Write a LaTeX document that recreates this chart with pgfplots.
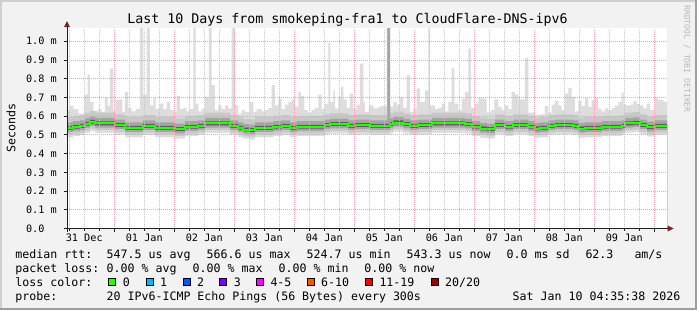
\documentclass[border=0pt]{standalone}
\usepackage{fontspec}
\setmainfont{DejaVu Sans Mono}
\setmonofont{DejaVu Sans Mono}
\usepackage{pgfplots}
\usepackage{pgfplotstable}
\pgfplotsset{compat=1.18}
\definecolor{backc}{HTML}{F2F2F2}
\definecolor{shadea}{HTML}{CFCFCF}
\definecolor{shadeb}{HTML}{9E9E9E}
\definecolor{mgrid}{HTML}{EFA0A0}
\definecolor{mingrid}{HTML}{C4C4C4}
\definecolor{arrowc}{HTML}{801F1F}
\definecolor{axisc}{HTML}{1F1F1F}
\definecolor{smokeA}{HTML}{DDDDDD}
\definecolor{smokeB}{HTML}{C8C8C8}
\definecolor{smokeC}{HTML}{A4A4A4}
\definecolor{smokeD}{HTML}{5E5E5E}
\definecolor{wmark}{HTML}{B8B8B8}
\definecolor{lc0}{HTML}{26FF00}
\definecolor{lc1}{HTML}{00B8FF}
\definecolor{lc2}{HTML}{0059FF}
\definecolor{lc3}{HTML}{7E00FF}
\definecolor{lc4}{HTML}{FF00FF}
\definecolor{lc6}{HTML}{FF5500}
\definecolor{lc11}{HTML}{FF0000}
\definecolor{lc20}{HTML}{A10000}

% maximum ping per time bin (hours since 31 Dec 00:00), ms
\pgfplotstableread{
h hi
5.1 0.632
6.28 0.655
7.61 0.637
9.61 0.614
12.01 0.715
13.35 0.822
14.28 0.676
15.61 0.630
17.61 0.637
18.95 0.623
20.28 0.703
21.35 0.655
22.28 0.854
23.61 0.632
24.55 0.685
25.61 0.690
27.21 0.623
28.28 0.729
29.61 0.644
30.95 0.626
32.55 0.637
34.28 1.07
35.61 0.715
36.95 1.07
38.28 0.658
39.61 0.697
40.55 0.637
42.28 0.667
43.61 0.637
44.95 0.676
46.28 0.632
47.61 0.626
48.95 0.708
50.28 0.637
51.61 0.644
52.95 0.626
54.28 0.637
55.61 1.07
56.55 0.667
57.61 0.626
58.95 0.637
60.28 0.703
61.88 1.07
62.95 0.765
64.28 0.632
65.61 0.658
66.95 0.637
68.28 0.658
69.61 0.641
70.95 1.07
72.28 0.658
73.61 0.614
74.95 0.632
76.28 0.623
78.28 0.676
79.61 0.623
80.95 0.637
82.95 0.626
84.28 0.632
85.61 0.644
86.95 0.765
88.28 0.658
89.61 0.694
90.95 0.637
92.28 0.662
93.61 0.676
94.95 0.690
96.28 0.649
97.61 0.729
98.68 0.708
100.01 0.632
101.35 0.619
102.95 0.632
104.28 0.644
105.61 0.715
106.95 0.637
108.28 0.667
109.61 0.993
110.41 0.676
111.61 0.738
112.28 0.641
113.61 0.703
114.68 0.756
115.61 0.690
116.95 0.644
118.28 0.720
119.61 0.637
120.95 0.662
122.28 0.881
123.61 0.676
124.28 0.623
125.88 0.658
127.61 0.641
129.61 0.649
130.95 0.655
132.95 1.07
134.28 0.649
135.61 0.676
136.95 0.662
138.28 0.703
139.61 0.644
140.95 0.818
142.28 0.623
143.61 0.637
144.95 0.747
146.28 0.676
148.28 0.738
149.61 1.07
150.28 0.658
152.28 0.637
153.61 0.644
154.95 0.667
156.28 0.626
157.61 0.676
158.95 0.858
160.01 0.667
161.61 0.632
162.95 0.694
164.28 0.729
165.61 0.960
166.68 0.644
168.28 0.667
169.61 0.697
171.21 0.694
172.95 0.619
174.68 0.632
176.01 0.690
177.61 0.649
178.95 0.632
180.28 0.658
181.61 0.637
182.95 0.729
184.28 0.715
185.61 0.690
188.28 0.911
189.61 0.619
190.95 0.619
192.28 0.605
193.88 0.609
196.28 0.655
197.61 0.619
198.95 0.662
200.28 0.681
201.61 0.658
202.95 0.632
204.28 0.720
205.61 0.751
206.95 0.703
208.28 0.626
209.61 0.680
210.95 0.655
212.28 0.697
213.61 0.649
214.95 0.685
216.28 0.697
217.61 0.637
218.95 0.626
220.28 0.641
221.61 0.632
222.95 0.641
224.28 0.658
225.61 0.676
226.95 0.726
227.75 0.662
228.95 0.658
230.28 0.662
231.61 0.680
232.95 0.667
234.28 0.658
235.61 0.641
236.95 0.667
238.28 0.632
240.28 0.697
241.61 0.685
243.61 0.676
245.1 0.676
}\spikes

% smoke bands and median (ms)
\pgfplotstableread{
h lo blo clo dlo med dhi chi bhi
5.1 .487 .501 .515 .527 .537 .548 .567 .595
7.5 .493 .507 .521 .533 .543 .554 .573 .601
10.3 .498 .512 .526 .538 .548 .559 .578 .606
12.3 .509 .523 .537 .549 .559 .570 .589 .617
14.3 .519 .533 .547 .559 .569 .580 .599 .627
16.3 .511 .525 .539 .551 .561 .572 .591 .619
24.3 .502 .516 .530 .542 .552 .563 .582 .610
28.3 .487 .501 .515 .527 .537 .548 .567 .595
35.5 .498 .512 .526 .538 .548 .559 .578 .606
40.3 .487 .501 .515 .527 .537 .548 .567 .595
48.3 .480 .494 .508 .520 .530 .541 .560 .588
52.3 .493 .507 .521 .533 .543 .554 .573 .601
57.5 .498 .512 .526 .538 .548 .559 .578 .606
60.3 .511 .525 .539 .551 .561 .572 .591 .619
70.3 .498 .512 .526 .538 .548 .559 .578 .606
73.6 .487 .501 .515 .527 .537 .548 .567 .595
75.6 .478 .492 .506 .518 .528 .539 .558 .586
78.3 .475 .489 .503 .515 .525 .536 .555 .583
80.3 .487 .501 .515 .527 .537 .548 .567 .595
87.6 .493 .507 .521 .533 .543 .554 .573 .601
91.0 .498 .512 .526 .538 .548 .559 .578 .606
94.3 .487 .501 .515 .527 .537 .548 .567 .595
97.0 .493 .507 .521 .533 .543 .554 .573 .601
108.3 .502 .516 .530 .542 .552 .563 .582 .610
110.3 .507 .521 .535 .547 .557 .568 .587 .615
117.6 .498 .512 .526 .538 .548 .559 .578 .606
120.3 .502 .516 .530 .542 .552 .563 .582 .610
126.3 .498 .512 .526 .538 .548 .559 .578 .606
133.2 .498 .512 .526 .538 .548 .559 1.07 1.07
134.3 .507 .521 .535 .547 .557 .568 .587 .615
135.6 .516 .530 .544 .556 .566 .577 .596 .624
139.6 .507 .521 .535 .547 .557 .568 .587 .615
142.3 .498 .512 .526 .538 .548 .559 .578 .606
145.6 .502 .516 .530 .542 .552 .563 .582 .610
151.0 .511 .525 .539 .551 .561 .572 .591 .619
164.3 .507 .521 .535 .547 .557 .568 .587 .615
167.0 .493 .507 .521 .533 .543 .554 .573 .601
170.3 .484 .498 .512 .524 .534 .545 .564 .592
173.0 .480 .494 .508 .520 .530 .541 .560 .588
176.3 .502 .516 .530 .542 .552 .563 .582 .610
180.3 .493 .507 .521 .533 .543 .554 .573 .601
183.6 .502 .516 .530 .542 .552 .563 .582 .610
189.6 .493 .507 .521 .533 .543 .554 .573 .601
192.3 .484 .498 .512 .524 .534 .545 .564 .592
194.3 .487 .501 .515 .527 .537 .548 .567 .595
197.6 .498 .512 .526 .538 .548 .559 .578 .606
200.3 .502 .516 .530 .542 .552 .563 .582 .610
207.6 .498 .512 .526 .538 .548 .559 .578 .606
209.6 .484 .498 .512 .524 .534 .545 .564 .592
212.3 .487 .501 .515 .527 .537 .548 .567 .595
219.0 .493 .507 .521 .533 .543 .554 .573 .601
227.0 .498 .512 .526 .538 .548 .559 .578 .606
228.3 .511 .525 .539 .551 .561 .572 .591 .619
231.6 .514 .528 .542 .554 .564 .575 .594 .622
234.3 .502 .516 .530 .542 .552 .563 .582 .610
237.0 .491 .505 .519 .531 .541 .552 .571 .599
240.3 .498 .512 .526 .538 .548 .559 .578 .606
245.1 .498 .512 .526 .538 .548 .559 .578 .606
}\bands

\newcommand{\ticfont}{\fontsize{10.2bp}{12bp}\selectfont}
\newcommand{\legfont}{\fontsize{11.6bp}{14bp}\selectfont}

\begin{document}
\begin{tikzpicture}[x=1bp,y=1bp]
\fill[backc] (0,0) rectangle (697,310);
\fill[shadea] (0,308) rectangle (697,310);
\fill[shadea] (0,0) rectangle (2,310);
\fill[shadeb] (0,0) rectangle (697,2);
\fill[shadeb] (695,0) rectangle (697,310);

\begin{axis}[
  at={(67bp,81.5bp)}, anchor=south west,
  scale only axis, width=600bp, height=200bp,
  xmin=5.1, xmax=245.1, ymin=0, ymax=1.068,
  axis background/.style={fill=white},
  axis line style={draw=none},
  axis on top,
  tick pos=left,
  tick align=outside,
  major tick length=3.5bp, minor tick length=2bp,
  tick style={axisc, line width=0.8bp},
  xtick={24,48,72,96,120,144,168,192,216,240},
  xticklabels={},
  minor xtick={6,12,18,30,36,42,54,60,66,78,84,90,102,108,114,126,132,138,150,156,162,174,180,186,198,204,210,222,228,234},
  extra x ticks={12,36,60,84,108,132,156,180,204,228},
  extra x tick labels={31 Dec,01 Jan,02 Jan,03 Jan,04 Jan,05 Jan,06 Jan,07 Jan,08 Jan,09 Jan},
  extra x tick style={grid=none, major tick length=0pt},
  ytick={0,0.1,0.2,0.3,0.4,0.5,0.6,0.7,0.8,0.9,1.0},
  yticklabels={0.0\hphantom{\ m},0.1 m,0.2 m,0.3 m,0.4 m,0.5 m,0.6 m,0.7 m,0.8 m,0.9 m,1.0 m},
  xmajorgrids, xminorgrids, ymajorgrids,
  major grid style={mgrid, dash pattern=on 1bp off 1bp, line width=0.9bp},
  minor grid style={mingrid, dash pattern=on 1bp off 1bp, line width=0.9bp},
  xticklabel style={font=\ticfont, anchor=base, inner sep=0pt, yshift=-13.2bp},
  yticklabel style={font=\ticfont, anchor=east, inner sep=0pt, xshift=-6.5bp},
]
% smoke: nested bands painted from the outside in
\addplot[fill=smokeA, draw=none, const plot] table[x=h,y=hi]{\spikes} \closedcycle;
\addplot[fill=smokeB, draw=none, const plot] table[x=h,y=bhi]{\bands} \closedcycle;
\addplot[fill=smokeC, draw=none, const plot] table[x=h,y=chi]{\bands} \closedcycle;
\addplot[fill=smokeD, draw=none, const plot] table[x=h,y=dhi]{\bands} \closedcycle;
\addplot[fill=smokeC, draw=none, const plot] table[x=h,y=dlo]{\bands} \closedcycle;
\addplot[fill=smokeB, draw=none, const plot] table[x=h,y=clo]{\bands} \closedcycle;
\addplot[fill=smokeA, draw=none, const plot] table[x=h,y=blo]{\bands} \closedcycle;
\addplot[fill=white, draw=none, const plot] table[x=h,y=lo]{\bands} \closedcycle;
% median
\addplot[lc0, const plot, line width=2bp] table[x=h,y=med]{\bands};
\end{axis}

% axes with rrdtool-style arrows
\draw[axisc, line width=1bp] (64,81.5) -- (668,81.5);
\draw[axisc, line width=1bp] (67,78) -- (67,284);
\fill[arrowc] (673.5,81.5) -- (667.5,84.5) -- (667.5,78.5) -- cycle;
\fill[arrowc] (67,288.8) -- (64,282.8) -- (70,282.8) -- cycle;

% title, axis label, watermark
\node[anchor=base, inner sep=0pt, font=\fontsize{13.3bp}{16bp}\selectfont] at (347.5,287) {Last 10 Days from smokeping-fra1 to CloudFlare-DNS-ipv6};
\node[anchor=base, inner sep=0pt, rotate=90, font=\legfont] at (15.3,182) {Seconds};
\node[anchor=base, inner sep=0pt, rotate=-90, text=wmark, font=\fontsize{8.1bp}{10bp}\selectfont] at (684.3,251) {RRDTOOL / TOBI OETIKER};

% legend
\begin{scope}[every node/.style={anchor=base west, inner sep=0pt, font=\legfont}]
\node at (15.3,51.7) {median rtt:};
\node at (106.5,51.7) {547.5 us avg};
\node at (206.5,51.7) {566.6 us max};
\node at (306.5,51.7) {524.7 us min};
\node at (406.5,51.7) {543.3 us now};
\node at (506.5,51.7) {0.0 ms sd};
\node at (585.3,51.7) {62.3};
\node at (634.3,51.7) {am/s};
\node at (15.3,37.7) {packet loss:};
\node at (106.5,37.7) {0.00 \% avg};
\node at (192.5,37.7) {0.00 \% max};
\node at (278.5,37.7) {0.00 \% min};
\node at (364.2,37.7) {0.00 \% now};
\node at (15.3,23.7) {loss color:};
\node at (122.6,23.7) {0};
\node at (160.0,23.7) {1};
\node at (197.0,23.7) {2};
\node at (233.6,23.7) {3};
\node at (270.3,23.7) {4-5};
\node at (321.0,23.7) {6-10};
\node at (379.3,23.7) {11-19};
\node at (445.0,23.7) {20/20};
\node at (15.3,9.7) {probe:};
\node at (106.5,9.7) {20 IPv6-ICMP Echo Pings (56 Bytes) every 300s};
\node at (512.5,9.7) {Sat Jan 10 04:35:38 2026};
\end{scope}
\begin{scope}[line width=1bp, draw=black]
\filldraw[fill=lc0]  (108.8,24.2) rectangle (115.8,31.2);
\filldraw[fill=lc1]  (146.2,24.2) rectangle (153.2,31.2);
\filldraw[fill=lc2]  (183.2,24.2) rectangle (190.2,31.2);
\filldraw[fill=lc3]  (219.8,24.2) rectangle (226.8,31.2);
\filldraw[fill=lc4]  (256.5,24.2) rectangle (263.5,31.2);
\filldraw[fill=lc6]  (307.2,24.2) rectangle (314.2,31.2);
\filldraw[fill=lc11] (365.5,24.2) rectangle (372.5,31.2);
\filldraw[fill=lc20] (431.2,24.2) rectangle (438.2,31.2);
\end{scope}
\end{tikzpicture}
\end{document}
